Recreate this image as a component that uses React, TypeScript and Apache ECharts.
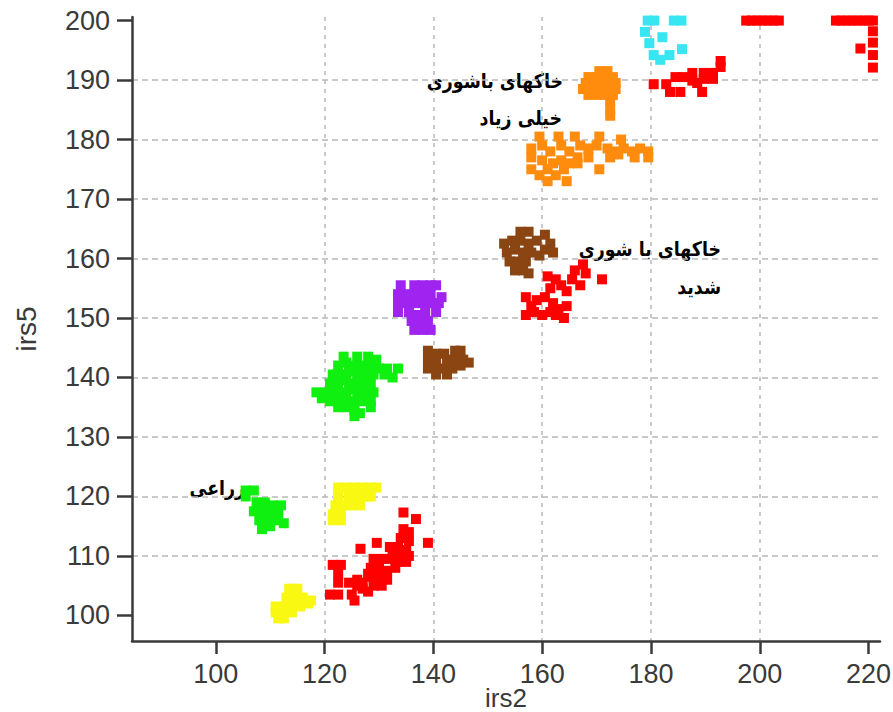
import React, { useEffect, useRef } from "react";
import * as echarts from "echarts";

const xTickValues = [100, 120, 140, 160, 180, 200, 220];
const yTickValues = [100, 110, 120, 130, 140, 150, 160, 170, 180, 190, 200];

const cyanPoints = [
  [179.4, 200], [180.6, 200], [184.2, 200], [185.6, 200],
  [178.9, 198.1], [182.1, 197.2], [179.7, 196.2], [185.7, 195.2],
  [180.5, 194.2], [183.4, 194.2], [181.7, 193.4],
];

const redCornerPoints = [
  [197.5, 200], [198.5, 200], [199.5, 200], [200.5, 200], [201.5, 200], [202.5, 200], [203.5, 200],
  [214, 200], [215, 200], [216, 200], [217, 200], [218, 200], [219, 200], [220, 200], [220.8, 200],
  [220.8, 198.2], [220.8, 196.3], [220.8, 194.2], [220.8, 192.1], [218.5, 195.3],
];

const redHighPoints = [
  [180.5, 189.3], [182.8, 189.3], [183.5, 188], [184.5, 190.5], [186, 190.5], [185.4, 188],
  [187.6, 191.2], [187.6, 189.9], [188.5, 189.5], [189.4, 188], [189.7, 191.2], [191.4, 190.2],
  [191.4, 191.2], [189.7, 190.2], [192.8, 193.2], [192.8, 192.2],
];

const orangeTopPoints = [
  [170.5, 191.5], [172, 191.5],
  [168.5, 190.5], [170, 190.5], [171.5, 190.5], [173, 190.5],
  [168, 189.5], [169.5, 189.5], [171, 189.5], [172.5, 189.5], [173.5, 189.5],
  [167.5, 188.5], [169, 188.5], [170.5, 188.5], [172, 188.5], [173.5, 188.5],
  [168.5, 187.5], [170, 187.5], [171.5, 187.5], [173, 187.5],
  [172.5, 186.5], [172.5, 185], [172.5, 184],
];

const orangeBandPoints = [
  [159.5, 180.5], [163, 180.5], [166, 180.5], [170.5, 180.5], [174.5, 180],
  [158, 178.5], [160, 179], [161.5, 178], [163.5, 179], [165, 178], [167, 179], [168.5, 178.5],
  [170, 179], [172, 178.5], [173.5, 178], [175, 178.5], [176.5, 178], [178, 178.5], [179.5, 178],
  [179.5, 177], [177, 177], [174, 177.5], [172.5, 177], [168.5, 177], [166.5, 177],
  [158, 177], [160, 176.5], [162, 176], [163.5, 176.5], [165, 176], [161, 175], [164, 175],
  [158, 175], [159.5, 174], [161, 173], [164.5, 173], [170.5, 175], [166.5, 176], [162.5, 174],
];

const brownUpperPoints = [
  [156, 164.5], [157.5, 164.5], [160.5, 164], [161.5, 162.5],
  [153, 162.5], [154.5, 163], [156, 163], [157.5, 162.5], [159, 163], [160.5, 161.5], [162, 161],
  [153.5, 161], [155, 161.5], [156.5, 161], [158, 161], [159.5, 160.5],
  [154, 159.5], [155.5, 159.5], [157, 159.5], [155, 158], [156.5, 158], [157.5, 157.5],
];

const redMidPoints = [
  [167.5, 159], [166, 158], [168, 157.5], [165.5, 156.5], [167, 155.5], [171, 156.5],
  [161, 157], [162.5, 156.5], [163.5, 155.5], [161.5, 155], [164.5, 154.5],
  [157, 153.5], [159, 153], [160.5, 153.5], [162, 152.5], [158, 152], [157, 150.5],
  [158.5, 151], [160, 150.5], [161.5, 151], [163, 151.5], [164.5, 152], [162.5, 150.5], [164, 150],
];

const purplePoints = [
  [134, 155.5], [136.5, 155.5], [138, 155.5], [139.5, 155.5], [140.5, 155.5],
  [133.5, 154], [135, 154], [136.5, 154], [138, 154], [139.5, 154], [141.5, 153.5],
  [133.5, 152.5], [135, 152.5], [136.5, 152.5], [138, 152.5], [139.5, 152.5], [141, 152.5],
  [133.5, 151], [135.5, 151], [137, 150.5], [138.5, 151], [140.5, 151],
  [136, 149.5], [137.5, 149.5], [139, 149.5],
  [136.5, 148], [138, 148], [139.5, 148],
];

const brownLowerPoints = [
  [139, 144.5], [140.5, 144], [142, 144], [144, 144.5], [145, 144.5],
  [139, 143], [140.5, 143], [142.5, 143], [144, 143], [145.5, 143], [146.5, 142.5],
  [139, 141.5], [140.5, 141.5], [142, 141.5], [143.5, 141.5], [145, 142],
  [140.5, 140.5], [142.5, 140.5],
];

const greenBigPoints = [
  [123.5, 143.5], [126, 143.5], [128, 143.5], [129.5, 143],
  [122.5, 142], [124, 142.5], [125.5, 142], [127, 142], [128.5, 142], [130, 141.5], [131.5, 141.5], [133.5, 141.5],
  [121.5, 140.5], [123, 140.5], [124.5, 141], [126, 140.5], [127.5, 140.5], [129, 140.5], [131, 140.5], [132.5, 140],
  [121, 139], [122.5, 139], [124, 139.5], [125.5, 139], [127, 139], [128.5, 139],
  [118.5, 137.5], [120, 137.5], [121.5, 137.5], [123, 137.5], [124.5, 138], [126, 137.5], [127.5, 137.5], [129, 137.5],
  [119.5, 136.5], [121, 136], [122.5, 136], [124, 136.5], [125.5, 136], [127, 136], [128.5, 136],
  [122.5, 135], [124, 135], [125.5, 134.5], [126.5, 134], [128.5, 135], [125.5, 133.5],
];

const greenSmallPoints = [
  [105.5, 121], [107, 121], [105.5, 120], [107.5, 119], [109, 119], [110.5, 118.5], [112, 118.5],
  [107, 117.5], [108.5, 117.5], [110, 117.5], [111.5, 117], [108, 116], [109.5, 116], [111, 116],
  [112.5, 115.5], [108.5, 114.5], [110, 115],
];

const yellowUpperPoints = [
  [122.5, 121.5], [124, 121.5], [125.5, 121.5], [127, 121.5], [128.5, 121.5], [129.5, 121.5],
  [122.5, 120], [124.5, 120], [126, 120], [127.5, 120], [128.5, 120],
  [122, 118.5], [123.5, 118.5], [125, 118.5], [126.5, 118.5],
  [121.5, 117], [123, 117], [121.5, 116], [123, 116],
];

const yellowLowerPoints = [
  [113.5, 104.5], [115, 104.5], [113, 103], [114.5, 103], [116, 103], [117.5, 102.5],
  [111, 101.5], [112.5, 101.5], [114, 101.5], [115.5, 101.5], [117, 102],
  [111, 100.5], [112.5, 100.5], [114, 100.5], [111.5, 99.5], [112.5, 99.5],
];

const redLowPoints = [
  [134.5, 117.3], [136.8, 116.2], [139, 112.2], [129.6, 112.2], [126.6, 111.2],
  [134.5, 114.5], [135.5, 114], [134, 113], [135.5, 112.5],
  [132, 111.5], [133.5, 111.5], [135, 111], [132.5, 110.5], [134, 110.5], [135.5, 110],
  [129, 109.5], [130.5, 109.5], [132, 109.5], [133.5, 109], [135, 109],
  [128.5, 108], [130, 108], [131.5, 107.5], [133, 108],
  [128.5, 106.5], [130, 106.5], [131.5, 106], [129, 105], [130.5, 105], [128, 104],
  [121.5, 108.5], [123, 108.5], [122.5, 107], [122.5, 105.5], [121, 103.5], [122.5, 103.5],
  [124.5, 105.5], [126, 105], [125, 103.5], [127, 104.5], [125.5, 102.5], [126, 106], [128, 107], [127, 105.5],
];

const annotationTexts = ["خاکهای باشوری", "خیلی زیاد", "خاکهای با شوری", "شدید", "زراعی"];

const RED = "#FF0000";
const groups: { data: number[][]; color: string }[] = [
  { data: cyanPoints, color: "#38E6F2" },
  { data: redCornerPoints, color: RED },
  { data: redHighPoints, color: RED },
  { data: orangeTopPoints, color: "#FF8C0C" },
  { data: orangeBandPoints, color: "#FF8C0C" },
  { data: brownUpperPoints, color: "#8B4513" },
  { data: redMidPoints, color: RED },
  { data: purplePoints, color: "#A024F0" },
  { data: brownLowerPoints, color: "#8B4513" },
  { data: greenBigPoints, color: "#10F010" },
  { data: greenSmallPoints, color: "#10F010" },
  { data: yellowUpperPoints, color: "#F8F812" },
  { data: yellowLowerPoints, color: "#F8F812" },
  { data: redLowPoints, color: RED },
];

export default function App() {
  const ref = useRef<HTMLDivElement>(null);
  useEffect(() => {
    if (!ref.current) return;
    const chart = echarts.init(ref.current, null, { renderer: "svg" });
    const axisColor = "#3a3a3a";
    const labelFont = "'Liberation Sans', Arial, sans-serif";
    const annFont = "'DejaVu Sans', sans-serif";
    const annStyle = (text: string) => ({
      text,
      fill: "#000",
      fontSize: 20,
      fontWeight: "bold" as const,
      fontFamily: annFont,
      align: "right" as const,
      verticalAlign: "middle" as const,
    });
    const ann = (i: number, x: number, y: number) => ({
      type: "text",
      x,
      y,
      scaleX: 0.87,
      style: annStyle(annotationTexts[i]),
    });
    chart.setOption({
      animation: false,
      backgroundColor: "#ffffff",
      grid: { left: 132, right: 13, top: 17, bottom: 71, outerBoundsMode: "none", containLabel: false },
      xAxis: {
        type: "value",
        min: 84.6,
        max: 222.1,
        splitNumber: 7,
        minInterval: 20,
        maxInterval: 20,
        name: "irs2",
        nameLocation: "middle",
        nameGap: 44,
        nameMoveOverlap: false,
        nameTextStyle: { fontSize: 26, color: axisColor, fontFamily: labelFont },
        axisLine: { show: true, onZero: false, lineStyle: { color: axisColor, width: 2.5 } },
        axisTick: { show: true, length: 13, customValues: xTickValues, lineStyle: { color: axisColor, width: 2.5 } },
        axisLabel: { customValues: xTickValues, fontSize: 27, color: axisColor, margin: 19, fontFamily: labelFont },
        splitLine: {
          show: true,
          showMinLine: false,
          showMaxLine: false,
          lineStyle: { type: [4, 5], color: "#b8b8b8", width: 1.5 },
        },
      },
      yAxis: {
        type: "value",
        min: 95.7,
        max: 200.6,
        splitNumber: 10,
        minInterval: 10,
        maxInterval: 10,
        name: "irs5",
        nameLocation: "middle",
        nameGap: 92,
        nameMoveOverlap: false,
        nameTextStyle: { fontSize: 28, color: axisColor, fontFamily: labelFont },
        axisLine: { show: true, onZero: false, lineStyle: { color: axisColor, width: 2.5 } },
        axisTick: { show: true, length: 15, customValues: yTickValues, lineStyle: { color: axisColor, width: 2.5 } },
        axisLabel: { customValues: yTickValues, fontSize: 27, color: axisColor, margin: 22, fontFamily: labelFont },
        splitLine: {
          show: true,
          showMinLine: false,
          showMaxLine: false,
          lineStyle: { type: [6, 4], color: "#b8b8b8", width: 1.5 },
        },
      },
      series: groups.map((g) => ({
        type: "scatter",
        symbol: "rect",
        symbolSize: 10,
        clip: false,
        data: g.data,
        itemStyle: { color: g.color, opacity: 1 },
        emphasis: { disabled: true },
      })),
      graphic: [
        ann(0, 563, 81),
        ann(1, 562, 118),
        ann(2, 721, 249),
        ann(3, 721, 287),
        ann(4, 245, 488),
      ],
    });
    return () => chart.dispose();
  }, []);
  return (
    <div
      ref={ref}
      style={{ position: "fixed", left: 0, top: 0, width: 893, height: 712, background: "#fff" }}
    />
  );
}
